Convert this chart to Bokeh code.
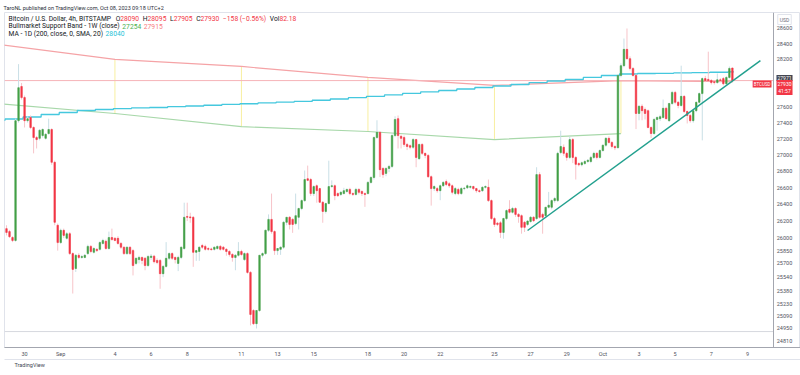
from bokeh.plotting import figure
from bokeh.models import (Range1d, FixedTicker, LinearAxis, Label, Title, ColumnDataSource)
from bokeh.core.properties import value
from bokeh.embed import file_html
from bokeh.resources import INLINE

# ---------------- data (BTCUSD 4h, Aug 29 00:00 -> Oct 8 04:00) ----------------
opens = [
    26110, 26075, 26005, 25970, 27425, 27855,
    27715, 27425, 27465, 27340, 27215, 27205,
    27240, 27205, 27265, 27315, 26910, 26150,
    25945, 26090, 25995, 26050, 25815, 25640,
    25795, 25770, 25770, 25815, 25900, 25830,
    25865, 25865, 25935, 25960, 25875, 26005,
    25995, 25995, 25935, 25890, 25815, 25890,
    25850, 25700, 25745, 25770, 25760, 25675,
    25770, 25785, 25735, 25735, 25580, 25665,
    25760, 25815, 25770, 25700, 25770, 25875,
    26255, 26250, 26245, 25830, 25840, 25910,
    25900, 25875, 25870, 25865, 25875, 25900,
    25890, 25865, 25840, 25805, 25770, 25795,
    25840, 25745, 25815, 25595, 25155, 25005,
    25155, 25795, 25815, 26090, 26220, 26075,
    25850, 25865, 25890, 26185, 26245, 26220,
    26170, 26245, 26350, 26445, 26710, 26700,
    26530, 26625, 26590, 26425, 26315, 26410,
    26615, 26625, 26530, 26520, 26530, 26555,
    26580, 26530, 26520, 26580, 26555, 26530,
    26530, 26665, 26725, 27215, 27280, 26835,
    26775, 26835, 26860, 27240, 27450, 27230,
    27215, 27130, 27115, 27095, 27190, 26955,
    27130, 27020, 26995, 26735, 26590, 26590,
    26565, 26625, 26675, 26650, 26625, 26530,
    26580, 26530, 26590, 26600, 26605, 26615,
    26590, 26565, 26565, 26605, 26605, 26445,
    26230, 26175, 26180, 26065, 26230, 26340,
    26305, 26350, 26280, 26265, 26185, 26160,
    26195, 26245, 26230, 26760, 26280, 26265,
    26365, 26365, 26445, 26445, 27030, 27095,
    27020, 26970, 27190, 26970, 26895, 26880,
    26895, 26920, 26920, 26970, 27020, 26970,
    27055, 27120, 27205, 27155, 27105, 27090,
    27995, 28120, 28330, 28210, 28085, 27995,
    27515, 27605, 27565, 27550, 27340, 27265,
    27440, 27450, 27465, 27580, 27425, 27640,
    27780, 27655, 27615, 27730, 27540, 27490,
    27425, 27550, 27655, 27765, 27955, 27945,
    27930, 27915, 27905, 27940, 27955, 27890,
    27970, 28090,
]
highs = [
    26150, 26095, 26020, 27450, 28140, 27900,
    27740, 27480, 27490, 27355, 27235, 27320,
    27330, 27270, 27450, 27330, 26930, 26170,
    26110, 26110, 26070, 26070, 25830, 25810,
    25820, 25800, 25810, 25920, 25915, 25890,
    25880, 25960, 25990, 25980, 26075, 26110,
    26010, 26020, 25950, 25900, 25900, 25900,
    25870, 25770, 25790, 25780, 25775, 25800,
    25810, 25800, 25760, 25750, 25680, 25950,
    25830, 25830, 25780, 25790, 25900, 26420,
    26420, 26300, 26260, 25860, 25900, 25930,
    25920, 25890, 25885, 25900, 25910, 25915,
    25905, 25880, 25855, 25820, 25810, 25950,
    25860, 25830, 25830, 25610, 25170, 25160,
    25800, 25830, 26100, 26280, 26530, 26090,
    25880, 25900, 26200, 26250, 26260, 26235,
    26530, 26360, 26460, 26810, 26870, 26720,
    26630, 26640, 26600, 26440, 26420, 26930,
    26690, 26640, 26545, 26560, 26600, 26590,
    26600, 26545, 26600, 26595, 26570, 26545,
    26680, 26740, 27230, 27430, 27290, 26850,
    26850, 26880, 27260, 27480, 27490, 27250,
    27240, 27150, 27130, 27210, 27200, 27140,
    27145, 27030, 27010, 26750, 26630, 26610,
    26640, 26680, 26700, 26670, 26640, 26610,
    26600, 26610, 26610, 26640, 26630, 26625,
    26600, 26580, 26620, 26630, 26700, 26460,
    26250, 26190, 26200, 26240, 26340, 26450,
    26370, 26365, 26295, 26280, 26200, 26210,
    26260, 26260, 26850, 26790, 26300, 26370,
    26550, 26460, 26490, 27040, 27300, 27130,
    27040, 27230, 27210, 26985, 26910, 26920,
    26940, 26950, 26990, 27040, 27035, 27070,
    27130, 27220, 27230, 27170, 27120, 28010,
    28150, 28470, 28600, 28240, 28100, 28010,
    27620, 27630, 27590, 27565, 27355, 27460,
    27480, 27500, 27690, 27600, 27650, 27800,
    27800, 27670, 28120, 27745, 27550, 27510,
    27560, 27665, 27780, 27970, 27990, 28300,
    27950, 27930, 28020, 27960, 27975, 27985,
    28110, 28095,
]
lows = [
    26030, 26000, 25950, 25955, 27400, 27690,
    27340, 27400, 27320, 27020, 27080, 27180,
    27215, 27190, 27250, 26880, 26150, 25850,
    25930, 26000, 25980, 25800, 25350, 25600,
    25750, 25755, 25760, 25800, 25820, 25815,
    25835, 25850, 25920, 25860, 25860, 25970,
    25960, 25920, 25870, 25800, 25800, 25800,
    25560, 25680, 25700, 25690, 25620, 25660,
    25740, 25700, 25690, 25405, 25540, 25650,
    25740, 25740, 25700, 25610, 25750, 25860,
    26200, 26180, 25660, 25730, 25730, 25870,
    25850, 25850, 25850, 25850, 25860, 25850,
    25850, 25790, 25780, 25720, 25620, 25780,
    25790, 25730, 25580, 24985, 24990, 24950,
    25140, 25770, 25800, 26070, 26050, 25800,
    25800, 25800, 25870, 26150, 26100, 26060,
    26150, 26100, 26330, 26430, 26680, 26500,
    26500, 26420, 26420, 26180, 26290, 26400,
    26600, 26450, 26490, 26500, 26520, 26540,
    26510, 26500, 26505, 26520, 26500, 26370,
    26520, 26650, 26700, 27200, 26730, 26720,
    26740, 26790, 26840, 27220, 27080, 27080,
    27100, 27060, 27070, 27075, 26850, 26940,
    27000, 26960, 26720, 26385, 26560, 26540,
    26450, 26610, 26620, 26600, 26520, 26510,
    26510, 26515, 26570, 26585, 26590, 26570,
    26540, 26540, 26550, 26590, 26430, 26215,
    26130, 26140, 26000, 25990, 26210, 26290,
    26290, 26250, 26180, 26050, 26070, 26140,
    26180, 26190, 26215, 26230, 26050, 26240,
    26350, 26340, 26420, 26430, 27010, 26990,
    26930, 26950, 26900, 26700, 26860, 26860,
    26880, 26900, 26900, 26950, 26945, 26955,
    27040, 27100, 27140, 27080, 27060, 27080,
    27970, 28100, 28200, 28060, 27980, 27320,
    27430, 27430, 27440, 27330, 27210, 27250,
    27300, 27420, 27450, 27440, 27410, 27620,
    27630, 27580, 27600, 27520, 27390, 27400,
    27400, 27530, 27640, 27180, 27910, 27920,
    27880, 27880, 27890, 27910, 27870, 27870,
    27955, 27905,
]
closes = [
    26065, 26015, 25970, 27425, 27840, 27715,
    27425, 27450, 27340, 27215, 27190, 27305,
    27315, 27255, 27315, 26910, 26185, 25945,
    26090, 26030, 26050, 25815, 25630, 25795,
    25770, 25780, 25795, 25900, 25840, 25875,
    25850, 25945, 25970, 25875, 26005, 25980,
    25970, 25935, 25890, 25815, 25890, 25815,
    25675, 25760, 25770, 25735, 25675, 25780,
    25785, 25720, 25710, 25580, 25665, 25760,
    25815, 25760, 25745, 25770, 25890, 26245,
    26245, 26240, 25830, 25850, 25890, 25890,
    25865, 25865, 25862, 25890, 25900, 25865,
    25865, 25840, 25805, 25770, 25795, 25840,
    25805, 25815, 25595, 25110, 25005, 25155,
    25795, 25815, 26090, 26220, 26075, 25850,
    25875, 25890, 26185, 26245, 26160, 26160,
    26265, 26350, 26445, 26700, 26690, 26530,
    26615, 26565, 26425, 26315, 26410, 26615,
    26625, 26505, 26505, 26545, 26565, 26580,
    26530, 26520, 26580, 26545, 26530, 26520,
    26665, 26725, 27215, 27280, 26820, 26760,
    26835, 26860, 27240, 27440, 27240, 27205,
    27130, 27105, 27095, 27190, 26970, 27130,
    27020, 26995, 26735, 26590, 26615, 26565,
    26625, 26665, 26640, 26625, 26545, 26590,
    26530, 26590, 26595, 26625, 26615, 26590,
    26565, 26555, 26605, 26615, 26445, 26230,
    26160, 26160, 26065, 26230, 26325, 26305,
    26350, 26280, 26255, 26125, 26125, 26200,
    26245, 26205, 26760, 26245, 26245, 26365,
    26390, 26445, 26470, 27020, 27105, 27020,
    26970, 27190, 26970, 26885, 26880, 26905,
    26920, 26935, 26970, 27020, 26970, 27055,
    27120, 27205, 27155, 27105, 27090, 27995,
    28120, 28330, 28210, 28085, 27995, 27515,
    27605, 27550, 27515, 27340, 27265, 27440,
    27465, 27475, 27580, 27450, 27640, 27780,
    27655, 27615, 27730, 27540, 27490, 27425,
    27550, 27655, 27765, 27955, 27930, 27930,
    27905, 27905, 27940, 27930, 27890, 27970,
    28085, 27930,
]

# Bullmarket Support Band (weekly points: Aug 28, Sep 4, 11, 18, 25, Oct 2)
band_week_bar = [-6, 36, 78, 120, 162, 204]
band_ema21w = [28410, 28200, 28110, 27970, 27870, 27930]
band_sma20w = [27650, 27515, 27350, 27290, 27190, 27265]
band_ema_last = 27915

# MA 1D (200, SMA) daily values, Aug 28 .. Oct 8
ma200_daily = [
    27430, 27446, 27471, 27502, 27527, 27552, 27565, 27577, 27584, 27590,
    27600, 27609, 27618, 27628, 27637, 27647, 27657, 27666, 27681, 27697,
    27714, 27729, 27748, 27767, 27786, 27804, 27823, 27842, 27861, 27880,
    27905, 27925, 27944, 27970, 27995, 28014, 28020, 28023, 28027, 28031,
    28036, 28040,
]

trend_bar = [173, 250.3]
trend_price = [26088, 28186]
drawn_level = 24915
last_close = 27930

price_ticks = [28600, 28400, 28200, 27600, 27400, 27200, 27000, 26800, 26600,
               26400, 26200, 26000, 25850, 25700, 25540, 25380, 25230, 25090,
               24950, 24810]
date_tick_bar = [6, 18, 36, 48, 60, 78, 90, 102, 120, 132, 144, 162, 174, 186,
                 198, 210, 222, 234, 246]
date_tick_text = ["30", "Sep", "4", "6", "8", "11", "13", "15", "18", "20", "22",
                  "25", "27", "29", "Oct", "3", "5", "7", "9"]

# ---------------- style / geometry ----------------
UP = "#43a047"
DOWN = "#f23645"
UP_WICK = "#c9dfe6"
DOWN_WICK = "#f7c4c9"
FONT = "Roboto"
DARK = "#131722"
AXIS_TXT = "#50535e"
RED = "#f23645"

W, H = 800, 375
FRAME_L, FRAME_T, FRAME_B = 4, 12, 347
PX_PER_BAR = 3.012
X0_PAGE = 6.0               # page x of bar 0


def bar_at(page_x):
    return (page_x - X0_PAGE) / PX_PER_BAR


AXIS_SEP_BAR = bar_at(773)   # price-scale separator
PRICE_LABEL_BAR = bar_at(784)

p = figure(width=W, height=H, output_backend="svg", toolbar_location=None,
           y_axis_type="log",
           x_range=Range1d(bar_at(FRAME_L), bar_at(W)),
           y_range=Range1d(24735, 28809),
           min_border_left=FRAME_L, min_border_right=0, min_border_top=FRAME_T,
           min_border_bottom=H - FRAME_B)
p.grid.visible = False
p.yaxis.visible = False
p.background_fill_color = "white"
p.border_fill_color = "white"
p.outline_line_color = "#e0e3eb"

# header (title above the chart)
p.title.text = "TaroNL published on TradingView.com, Oct 08, 2023 09:18 UTC+2"
p.title.align = "left"
p.title.text_font = FONT
p.title.text_font_size = "5.5px"
p.title.text_font_style = "normal"
p.title.text_color = "#2a2e39"
p.title.standoff = 0
p.title.offset = -1
p.title.vertical_align = "top"

# time axis
p.xaxis.ticker = FixedTicker(ticks=date_tick_bar)
p.xaxis.major_label_overrides = {b: t for b, t in zip(date_tick_bar, date_tick_text)}
p.xaxis.major_tick_out = 0
p.xaxis.major_tick_in = 0
p.xaxis.minor_tick_line_color = None
p.xaxis.major_label_standoff = 3
p.xaxis.major_label_text_font = FONT
p.xaxis.major_label_text_font_size = "5.5px"
p.xaxis.major_label_text_color = AXIS_TXT
p.xaxis.axis_line_color = "#a3a6af"

bottom_line = LinearAxis(ticker=FixedTicker(ticks=[]), axis_line_color="#e0e3eb",
                         major_tick_out=0, major_tick_in=0, major_label_standoff=0,
                         minor_tick_line_color=None,
                         major_label_text_font_size="0px")
p.add_layout(bottom_line, "below")
logo = Title(text="TradingView", align="left", text_font=FONT,
             text_font_size="5.5px", text_font_style="normal",
             text_color="#434651", standoff=0, offset=10)
p.add_layout(logo, "below")

# ---------------- indicators ----------------
wk = list(range(1, len(band_week_bar)))
p.segment(x0=[band_week_bar[i] for i in wk], x1=[band_week_bar[i] for i in wk],
          y0=[band_ema21w[i] for i in wk], y1=[band_sma20w[i] for i in wk],
          line_color="#f8efa0", line_width=1)
p.line(band_week_bar + [241], band_ema21w + [band_ema_last],
       line_color="#f5a3a6", line_width=1.2)
p.line(band_week_bar, band_sma20w, line_color="#a8d8aa", line_width=1.2)

# last price line and a horizontal drawing (stop at the price scale)
p.segment(x0=[bar_at(FRAME_L), bar_at(FRAME_L)], x1=[AXIS_SEP_BAR, AXIS_SEP_BAR],
          y0=[last_close, drawn_level], y1=[last_close, drawn_level],
          line_color=["#f6b3b8", "#d6d8de"], line_width=1)

# MA 200 daily (step line)
ma_x = [6 * d - 0.5 for d in range(-1, len(ma200_daily) - 1)] + [241.5]
ma_y = ma200_daily + [ma200_daily[-1]]
p.step(ma_x, ma_y, mode="after", line_color="#45c8de", line_width=1.3)

# ---------------- candles ----------------
idx = list(range(len(opens)))


def subset(cond):
    sel = [i for i in idx if cond(i)]
    return ColumnDataSource(dict(x=sel, o=[opens[i] for i in sel], h=[highs[i] for i in sel],
                                 l=[lows[i] for i in sel], c=[closes[i] for i in sel]))


up_src = subset(lambda i: closes[i] >= opens[i])
dn_src = subset(lambda i: closes[i] < opens[i])
p.segment(x0="x", x1="x", y0="l", y1="h", source=up_src, line_color=UP_WICK, line_width=1)
p.segment(x0="x", x1="x", y0="l", y1="h", source=dn_src, line_color=DOWN_WICK, line_width=1)
p.vbar(x="x", width=0.5, top="c", bottom="o", source=up_src,
       fill_color=UP, line_color=UP, line_width=0.6)
p.vbar(x="x", width=0.5, top="o", bottom="c", source=dn_src,
       fill_color=DOWN, line_color=DOWN, line_width=0.6)

# trend line
p.line(trend_bar, trend_price, line_color="#22a08e", line_width=1.5)

# ---------------- price scale (right) ----------------
p.segment(x0=[AXIS_SEP_BAR], x1=[AXIS_SEP_BAR], y0=[24735], y1=[28809],
          line_color="#a3a6af", line_width=1)
p.text(x=[PRICE_LABEL_BAR] * len(price_ticks), y=price_ticks,
       text=[str(t) for t in price_ticks], text_font=value(FONT),
       text_font_size="5.5px", text_color=AXIS_TXT, text_align="center",
       text_baseline="middle")

# ---------------- texts ----------------
_w = {' ': .248, '.': .263, ',': .196, '/': .412, '(': .342, ')': .348, '-': .276,
      '−': .568, '%': .733, ':': .242, '+': .567, 'B': .622, 'I': .272, 'T': .61,
      'S': .593, 'A': .652, 'M': .872, 'P': .631, 'U': .647, 'D': .655, 'O': .688,
      'H': .713, 'L': .538, 'C': .652, 'V': .636, 'W': .887, 'N': .713, 'R': .616,
      'E': .568, 'a': .543, 'b': .561, 'c': .523, 'd': .564, 'e': .529, 'f': .347,
      'g': .561, 'h': .551, 'i': .243, 'k': .507, 'l': .243, 'm': .876, 'n': .552,
      'o': .570, 'p': .561, 'r': .338, 's': .516, 't': .327, 'u': .551, 'v': .484,
      'w': .751, 'y': .473, 'z': .496}


def tw(s, size):
    return sum(_w.get(ch, .562 if ch.isdigit() else .55) for ch in s) * size


def runs(parts, page_x, page_y, size, gap=0.0):
    x = page_x - FRAME_L
    for txt, col, space_before in parts:
        if space_before:
            x += tw(" ", size) + gap
        p.add_layout(Label(x=x, y=FRAME_B - page_y, x_units="screen",
                           y_units="screen", text=txt, text_font=FONT,
                           text_font_size=f"{size}px", text_color=col,
                           text_baseline="middle", text_align="left"))
        x += tw(txt, size)


LS = 6.7
runs([("Bitcoin / U.S. Dollar, 4h, BITSTAMP", DARK, False),
      ("O", DARK, True), ("28090", RED, False),
      ("H", DARK, True), ("28095", RED, False),
      ("L", DARK, True), ("27905", RED, False),
      ("C", DARK, True), ("27930", RED, False),
      ("−158 (−0.56%)", RED, True),
      ("Vol", DARK, True), ("82.18", RED, False)], 8, 18, LS, gap=2.0)
runs([("Bullmarket Support Band - 1W (close)", DARK, False),
      ("27254", "#4caf50", True), ("27915", "#f77c80", True)], 8, 25.5, LS, gap=1.0)
runs([("MA - 1D (200, close, 0, SMA, 20)", DARK, False),
      ("28040", "#26bfd6", True)], 8, 33, LS, gap=1.0)


def tag(text, page_x, page_y, bg, fg, size, align="center", pad=1, border=None):
    p.add_layout(Label(x=page_x - FRAME_L, y=FRAME_B - page_y,
                       x_units="screen", y_units="screen", text=text,
                       text_font=FONT, text_font_size=f"{size}px", text_color=fg,
                       text_baseline="middle", text_align=align,
                       background_fill_color=bg, border_line_color=border,
                       padding=pad))


tag("BTCUSD", 771, 83.5, RED, "white", 4.5, align="right", pad=1)
tag("27971", 784, 77.5, "#434651", "white", 5, pad=1)
tag("27930\n41:57", 784, 87, RED, "white", 5, pad=1)
tag("USD", 784, 19, "white", "#6a6d78", 5, pad=2, border="#e0e3eb")

open("out.html", "w").write(file_html(p, INLINE))
